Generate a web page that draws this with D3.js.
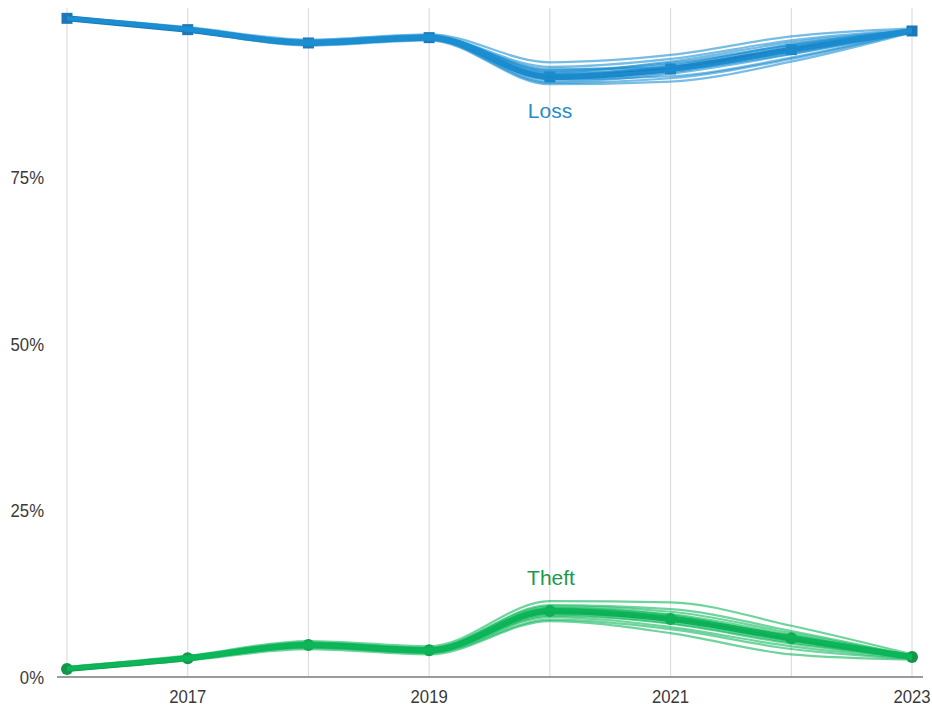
<!DOCTYPE html>
<html>
<head>
<meta charset="utf-8">
<script src="https://cdn.jsdelivr.net/npm/d3@7"></script>
<style>
  html, body { margin: 0; padding: 0; background: #fff; }
  svg { display: block; }
  text { font-family: "Liberation Sans", Arial, Helvetica, sans-serif; }
</style>
</head>
<body>
<svg id="chart" width="932" height="706"></svg>
<script>
// ---- Data ----
const years = [2016, 2017, 2018, 2019, 2020, 2021, 2022, 2023];
const xTickYears = [2017, 2019, 2021, 2023];
const yTicks = [0, 25, 50, 75];

const lossMain  = [98.9, 97.2, 95.2, 96.0, 90.1, 91.3, 94.2, 97.0];
const theftMain = [1.2, 2.8, 4.8, 4.0, 9.9, 8.7, 5.8, 3.0];

const lossEnsemble = [
  [98.9, 97.3, 95.2, 96.0, 90.0, 91.2, 94.1, 97.0],
  [98.8, 97.1, 95.0, 95.8, 89.4, 90.6, 93.5, 96.9],
  [99.0, 97.5, 95.5, 96.3, 91.0, 92.0, 94.8, 97.2],
  [98.7, 97.0, 94.8, 95.6, 89.0, 89.4, 92.4, 96.8],
  [99.1, 97.6, 95.7, 96.5, 92.3, 93.4, 96.2, 97.4],
  [98.8, 97.2, 95.3, 96.1, 90.5, 91.8, 95.0, 97.1],
  [98.9, 97.4, 95.1, 95.9, 89.7, 90.2, 93.0, 96.9],
  [98.8, 97.3, 95.4, 96.2, 91.6, 92.8, 95.6, 97.2],
  [98.9, 97.2, 95.0, 95.7, 89.2, 89.9, 92.8, 96.9],
  [99.0, 97.4, 95.6, 96.4, 90.8, 92.4, 95.3, 97.1],
  [98.8, 97.1, 95.2, 96.0, 90.2, 91.0, 94.4, 97.0],
  [98.9, 97.3, 95.3, 96.1, 91.3, 91.5, 93.8, 97.0],
  [98.9, 97.2, 95.1, 95.9, 90.4, 91.1, 93.6, 97.0],
  [98.8, 97.3, 95.3, 96.1, 89.8, 90.8, 94.0, 97.1],
  [99.0, 97.2, 95.2, 96.0, 90.7, 91.6, 94.6, 97.0],
  [98.9, 97.4, 95.4, 96.2, 91.1, 92.2, 94.9, 97.1]
];

const theftEnsemble = [
  [1.2, 2.8, 4.8, 4.0, 9.9, 8.7, 5.8, 3.0],
  [1.1, 2.6, 4.4, 3.6, 8.6, 7.2, 4.2, 2.7],
  [1.4, 3.0, 5.1, 4.3, 10.8, 10.2, 6.9, 3.2],
  [1.0, 2.5, 4.2, 3.4, 8.4, 6.6, 3.4, 2.6],
  [1.5, 3.2, 5.4, 4.6, 11.4, 11.2, 7.7, 3.4],
  [1.2, 2.9, 4.9, 4.1, 10.3, 9.4, 6.3, 3.1],
  [1.3, 2.7, 4.6, 3.8, 9.2, 8.0, 5.0, 2.9],
  [1.2, 3.1, 5.2, 4.4, 10.6, 9.8, 6.6, 3.2],
  [1.1, 2.7, 4.5, 3.7, 9.0, 7.5, 4.6, 2.8],
  [1.3, 2.9, 5.0, 4.2, 10.1, 9.1, 6.0, 3.0],
  [1.2, 2.8, 4.7, 3.9, 9.5, 8.4, 5.4, 2.9],
  [1.3, 3.0, 4.9, 4.1, 10.0, 8.9, 6.2, 3.1],
  [1.2, 2.8, 4.8, 4.0, 9.7, 8.5, 5.6, 3.0],
  [1.3, 2.9, 4.9, 4.1, 10.2, 9.0, 6.1, 3.1],
  [1.2, 2.7, 4.7, 3.9, 9.4, 8.1, 5.2, 2.9],
  [1.2, 2.9, 4.8, 4.0, 10.4, 9.3, 5.9, 3.0]
];

const seriesLabels = ["Loss", "Theft"];

// ---- Layout ----
const svg = d3.select("#chart");
const x = d3.scaleLinear().domain([2016, 2023]).range([67, 912]);
const y = d3.scaleLinear().domain([0, 100]).range([677, 11]);

const line = d3.line()
  .x((d, i) => x(years[i]))
  .y(d => y(d))
  .curve(d3.curveMonotoneX);

// vertical gridlines
svg.append("g").selectAll("line").data(years).join("line")
  .attr("x1", d => x(d)).attr("x2", d => x(d))
  .attr("y1", 8).attr("y2", y(0))
  .attr("stroke", "#dedede").attr("stroke-width", 1.2);

// baseline
svg.append("line")
  .attr("x1", 57).attr("x2", 923)
  .attr("y1", y(0)).attr("y2", y(0))
  .attr("stroke", "#7a7a7a").attr("stroke-width", 1.5);

// y tick labels
svg.append("g").selectAll("text").data(yTicks).join("text")
  .attr("transform", d => `translate(44,${y(d)}) scale(0.88,1)`)
  .attr("text-anchor", "end")
  .attr("dy", "0.36em")
  .attr("font-size", 19)
  .attr("fill", "#3a3a3a")
  .text(d => d + "%");

// x tick labels
svg.append("g").selectAll("text").data(xTickYears).join("text")
  .attr("transform", d => `translate(${x(d)},703) scale(0.88,1)`)
  .attr("text-anchor", "middle")
  .attr("font-size", 19)
  .attr("fill", "#3a3a3a")
  .text(d => d);

function drawSeries(ens, main, thinColor, mainColor, marker) {
  const g = svg.append("g");
  g.append("path")
    .datum(main)
    .attr("d", line)
    .attr("fill", "none")
    .attr("stroke", mainColor)
    .attr("stroke-width", 6);
  if (marker === "square") {
    g.selectAll("rect").data(main).join("rect")
      .attr("x", (d, i) => x(years[i]) - 5.5)
      .attr("y", d => y(d) - 5.5)
      .attr("width", 11).attr("height", 11)
      .attr("fill", mainColor);
  } else {
    g.selectAll("circle").data(main).join("circle")
      .attr("cx", (d, i) => x(years[i]))
      .attr("cy", d => y(d))
      .attr("r", 6)
      .attr("fill", mainColor);
  }
  g.selectAll("path.ens").data(ens).join("path")
    .attr("class", "ens")
    .attr("d", line)
    .attr("fill", "none")
    .attr("stroke", thinColor)
    .attr("stroke-width", 2.2)
    .attr("stroke-opacity", 0.6);
}

drawSeries(lossEnsemble, lossMain, "#1c8fd2", "#1c78b8", "square");
drawSeries(theftEnsemble, theftMain, "#0db85a", "#12964a", "circle");

// series labels
svg.append("text")
  .attr("x", 550).attr("y", 118)
  .attr("text-anchor", "middle")
  .attr("font-size", 21)
  .attr("fill", "#2b8cc6")
  .text(seriesLabels[0]);

svg.append("text")
  .attr("x", 551).attr("y", 585)
  .attr("text-anchor", "middle")
  .attr("font-size", 21)
  .attr("fill", "#199a4e")
  .text(seriesLabels[1]);
</script>
</body>
</html>
